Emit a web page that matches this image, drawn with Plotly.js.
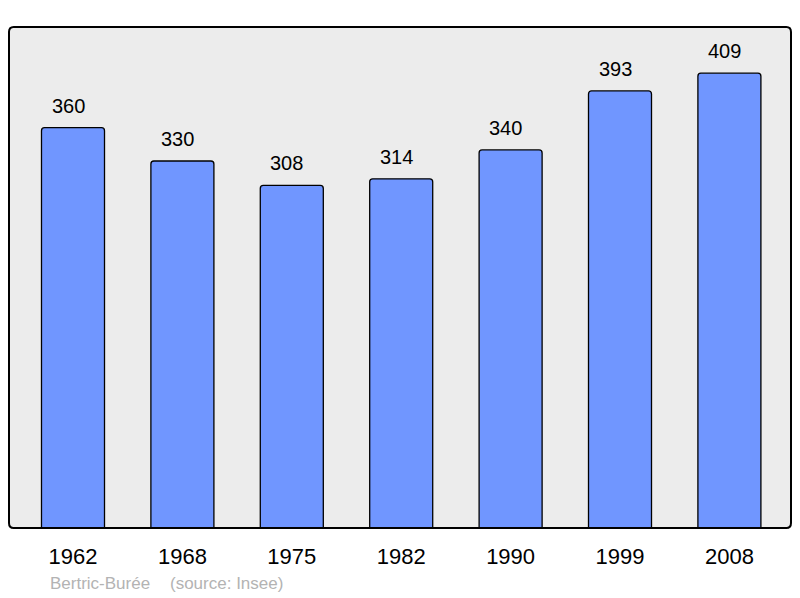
<!DOCTYPE html>
<html><head><meta charset="utf-8">
<script src="https://cdn.plot.ly/plotly-3.0.1.min.js"></script>
<style>html,body{margin:0;padding:0;background:#fff;}#chart{width:800px;height:598px;}</style>
</head><body><div id="chart"></div>
<script>
const years = ["1962","1968","1975","1982","1990","1999","2008"];
const population = [360,330,308,314,340,393,409];
const placeName = "Bertric-Burée";
const sourceName = "(source: Insee)";

const FONT = 'Liberation Sans, Arial, sans-serif';
const idx = years.map((_, i) => i);
const annotations = population.map((v, i) => ({
  x: i, y: v, xref: 'x', yref: 'y', text: String(v), showarrow: false,
  yanchor: 'middle', yshift: 22, xshift: -5, font: {family: FONT, size: 20, color: '#000'}
}));
annotations.push({
  xref: 'paper', yref: 'paper', x: 0.0495, y: -0.11, xanchor: 'left', yanchor: 'middle',
  text: placeName, showarrow: false, font: {family: FONT, size: 17, color: '#b3b3b3'}
});
annotations.push({
  xref: 'paper', yref: 'paper', x: 0.2030, y: -0.11, xanchor: 'left', yanchor: 'middle',
  text: sourceName, showarrow: false, font: {family: FONT, size: 17, color: '#b3b3b3'}
});

const trace = {
  type: 'bar', x: idx, y: population, width: 0.576,
  marker: {color: '#7096ff', line: {color: '#000', width: 1.3}, cornerradius: 3},
  hoverinfo: 'none'
};

const layout = {
  width: 800, height: 598,
  margin: {l: 9, r: 9, t: 27, b: 70},
  paper_bgcolor: '#ffffff', plot_bgcolor: '#ececec',
  showlegend: false,
  font: {family: FONT, color: '#000'},
  xaxis: {
    range: [-0.585, 6.563], tickmode: 'array', tickvals: idx, ticktext: years,
    showgrid: false, zeroline: false, showline: false, ticks: '',
    tickfont: {size: 22, color: '#000'}, ticklabelstandoff: 13, fixedrange: true
  },
  yaxis: {
    range: [0, 450.5], showgrid: false, zeroline: false, showline: false,
    showticklabels: false, ticks: '', fixedrange: true
  },
  shapes: [{
    type: 'path', xref: 'paper', yref: 'paper',
    path: 'M 0.006 0 L 0.994 0 Q 1 0 1 0.01 L 1 0.99 Q 1 1 0.994 1 L 0.006 1 Q 0 1 0 0.99 L 0 0.01 Q 0 0 0.006 0 Z',
    line: {color: '#000', width: 2}, layer: 'above'
  }],
  annotations: annotations
};

Plotly.newPlot('chart', [trace], layout, {staticPlot: true, displayModeBar: false});
</script></body></html>
